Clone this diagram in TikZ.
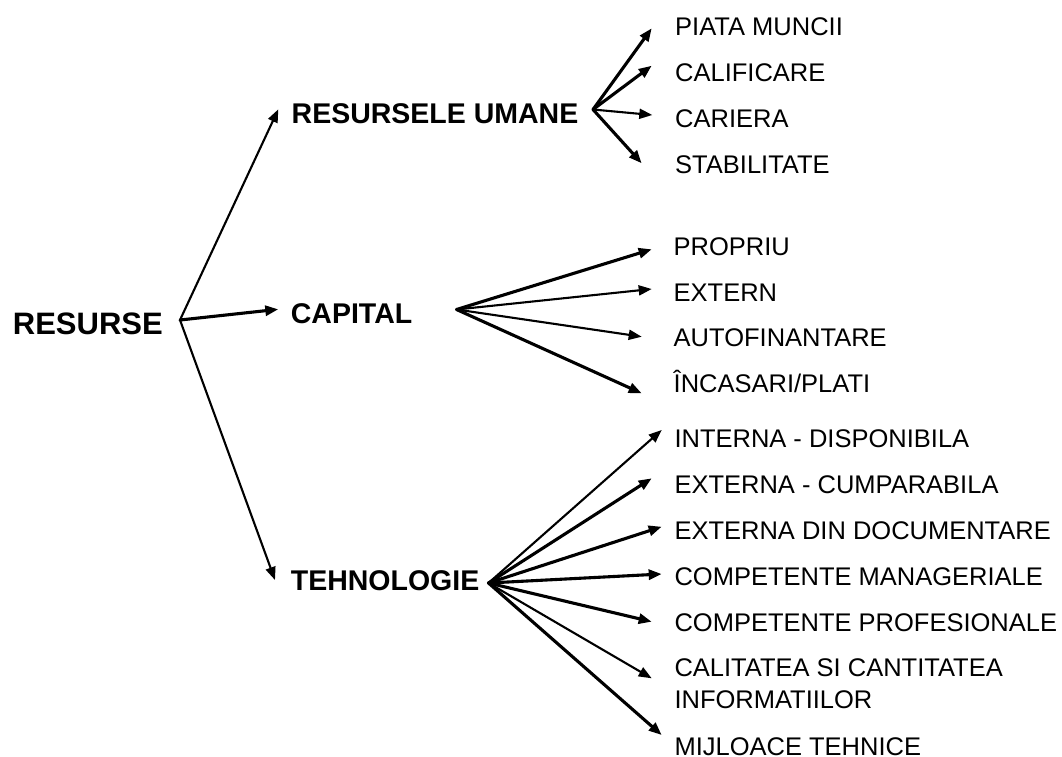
\documentclass[tikz,border=0pt]{standalone}
\usepackage{fontspec}
\setmainfont{Liberation Sans}
\usetikzlibrary{arrows.meta}
\begin{document}
\begin{tikzpicture}[x=1pt,y=-1pt,
  item/.style={anchor=base west,inner sep=0pt,font=\fontsize{25.5}{32}\selectfont},
  branch/.style={anchor=base west,inner sep=0pt,font=\fontsize{28.5}{34}\selectfont\bfseries},
  rootlabel/.style={anchor=base west,inner sep=0pt,font=\fontsize{31}{36}\selectfont\bfseries},
  link/.style={line width=2.1pt,line cap=round,-{Triangle[length=13pt,width=10pt]}},
  heavy/.style={link,line width=3.1pt}]
\useasboundingbox (0,0) rectangle (1062,756);

% root and main branches
\node[rootlabel] (res) at (12.7,334.3) {RESURSE};
\node[branch] (umane) at (291.5,123.3) {RESURSELE UMANE};
\node[branch] (capital) at (290.7,323.3) {CAPITAL};
\node[branch] (tehno) at (290.7,590) {TEHNOLOGIE};

% resursele umane
\node[item] (piata) at (675,35) {PIATA MUNCII};
\node[item] (calif) at (675,81.5) {CALIFICARE};
\node[item] (cariera) at (675,127.5) {CARIERA};
\node[item] (stab) at (675,173) {STABILITATE};

% capital
\node[item] (propriu) at (673.5,255.5) {PROPRIU};
\node[item] (extern) at (673.5,301.5) {EXTERN};
\node[item] (autof) at (673.5,346.5) {AUTOFINANTARE};
\node[item] (incas) at (673.5,392.5) {ÎNCASARI/PLATI};

% tehnologie
\node[item] (intdisp) at (674.3,447.5) {INTERNA - DISPONIBILA};
\node[item] (extcump) at (674.3,493.5) {EXTERNA - CUMPARABILA};
\node[item] (extdoc) at (674.3,539) {EXTERNA DIN DOCUMENTARE};
\node[item] (compman) at (674.3,585.5) {COMPETENTE MANAGERIALE};
\node[item] (compprof) at (674.3,631.5) {COMPETENTE PROFESIONALE};
\node[item,anchor=north west,align=left] (calit) at (674.3,658.5) {CALITATEA SI CANTITATEA\\INFORMATIILOR};
\node[item] (mijl) at (674.3,755) {MIJLOACE TEHNICE};

% hubs where the arrows start
\coordinate (hres) at (180,320);
\coordinate (humane) at (593,109.5);
\coordinate (hcap) at (456.5,309.5);
\coordinate (hteh) at (488.5,583);

% arrow tips
\coordinate (t-umane) at (278.3,109.3);
\coordinate (t-capital) at (278.3,309.3);
\coordinate (t-tehno) at (275,580);
\coordinate (t-piata) at (651.7,28.3);
\coordinate (t-calif) at (651.7,65.7);
\coordinate (t-cariera) at (652.3,115);
\coordinate (t-stab) at (641.7,163.3);
\coordinate (t-propriu) at (651.7,249.3);
\coordinate (t-extern) at (651.7,289);
\coordinate (t-autof) at (641.7,336.7);
\coordinate (t-incas) at (641.7,393.3);
\coordinate (t-intdisp) at (661.7,430);
\coordinate (t-extcump) at (651.7,478.3);
\coordinate (t-extdoc) at (661.7,526.7);
\coordinate (t-compman) at (661.7,574);
\coordinate (t-compprof) at (651.7,621.7);
\coordinate (t-calit) at (651.7,678.3);
\coordinate (t-mijl) at (661.7,735);

% connectors
\draw[link] (hres) -- (t-umane);
\draw[heavy] (hres) -- (t-capital);
\draw[link] (hres) -- (t-tehno);

\draw[heavy] (humane) -- (t-piata);
\draw[heavy] (humane) -- (t-calif);
\draw[link] (humane) -- (t-cariera);
\draw[heavy] (humane) -- (t-stab);

\draw[heavy] (hcap) -- (t-propriu);
\draw[link] (hcap) -- (t-extern);
\draw[link] (hcap) -- (t-autof);
\draw[heavy] (hcap) -- (t-incas);

\draw[link] (hteh) -- (t-intdisp);
\draw[heavy] (hteh) -- (t-extcump);
\draw[heavy] (hteh) -- (t-extdoc);
\draw[heavy] (hteh) -- (t-compman);
\draw[heavy] (hteh) -- (t-compprof);
\draw[link] (hteh) -- (t-calit);
\draw[heavy] (hteh) -- (t-mijl);
\end{tikzpicture}
\end{document}
